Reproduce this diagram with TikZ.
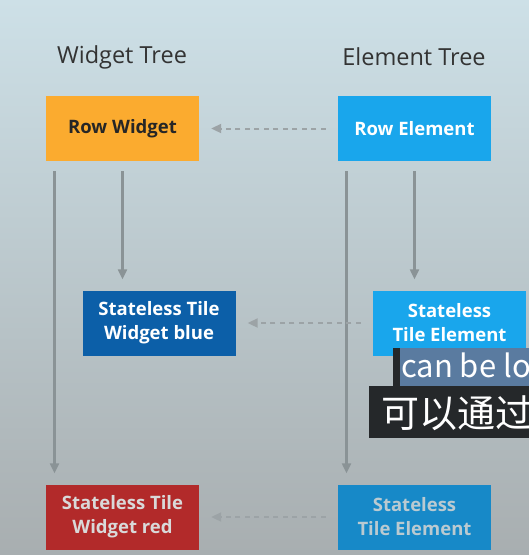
\documentclass[tikz,border=0pt]{standalone}
\usepackage{fontspec}
\setmainfont{Open Sans}
\newfontfamily\cjk{Noto Sans CJK SC}
\usetikzlibrary{arrows.meta}

\definecolor{roworange}{HTML}{FBAB2F}
\definecolor{elemblue}{HTML}{19A6EC}
\definecolor{elemdark}{HTML}{1789C8}
\definecolor{widgetblue}{HTML}{0C5FA8}
\definecolor{widgetred}{HTML}{B22A2A}
\definecolor{linegray}{HTML}{8A9396}
\definecolor{subdark}{HTML}{25282A}
\definecolor{subhl}{HTML}{5A7BA0}
\definecolor{bgtop}{HTML}{CDE0E7}
\definecolor{bgmid}{HTML}{D0DADC}
\definecolor{bgbot}{HTML}{A8AEB0}

\begin{document}
\begin{tikzpicture}[
    x=1pt, y=-1pt,
    box/.style={minimum width=153pt, minimum height=65pt, inner sep=0pt,
        align=center, font=\fontsize{18.5}{24}\selectfont\bfseries},
    title/.style={font=\fontsize{23.5}{28}\selectfont, text=black!80},
    link/.style={->, draw=linegray, line width=2.2pt},
    maps/.style={->, draw=linegray!85, line width=2pt, dash pattern=on 5pt off 4.5pt,
        shorten <=12pt, shorten >=12pt},
    >={Triangle[length=10pt, width=9pt]}
]
    \useasboundingbox (0,0) rectangle (529,555);
    \clip (0,0) rectangle (529,555);
    \shade[top color=bgtop, middle color=bgmid, bottom color=bgbot]
        (0,0) rectangle (529,555);

    % 标题
    \node[title] (WT) at (122,57) {Widget Tree};
    \node[title] (ET) at (414,57) {Element Tree};

    % 节点定义 (左: widget, 右: element)
    \node[box, fill=roworange, text=black!85] (RW) at (122.5,128.5) {Row Widget};
    \node[box, fill=elemblue, text=white] (RE) at (414.5,128.5) {Row Element};
    \node[box, fill=widgetblue, text=white] (SWB) at (159,323) {Stateless Tile\\Widget blue};
    \node[box, fill=elemblue, text=white] (SE1) at (449.5,323) {Stateless\\Tile Element};
    \node[box, fill=widgetred, text=white!85!black] (SWR) at (122.5,517) {Stateless Tile\\Widget red};
    \node[box, fill=elemdark, text=white!80!cyan!60!gray] (SE2) at (414.5,517) {Stateless\\Tile Element};

    % 1. 树中的父子连线
    \draw[link] ([xshift=8.7pt, yshift=-10pt]RW.south west) -- ([xshift=8.7pt, yshift=11pt]SWR.north west);
    \draw[link] ([yshift=-10pt]RW.south) -- ([yshift=11pt]RW.south |- SWB.north);
    \draw[link] ([xshift=8.7pt, yshift=-10pt]RE.south west) -- ([xshift=8.7pt, yshift=11pt]SE2.north west);
    \draw[link] ([yshift=-10pt]RE.south) -- ([yshift=11pt]RE.south |- SE1.north);

    % 2. element 指向 widget 的虚线
    \draw[maps] (RE) -- (RW);
    \draw[maps] (SE1) -- (SWB);
    \draw[maps] (SE2) -- (SWR);

    % 字幕
    \fill[subdark] (393,348) rectangle (529,386);
    \fill[subhl] (400,348) rectangle (529,386);
    \fill[subdark] (369,386) rectangle (529,438);
    \node[anchor=base west, inner sep=0pt, text=white, font=\cjk\fontsize{31}{34}\selectfont]
        (SUB1) at (401,377) {can be lo};
    \node[anchor=base west, inner sep=0pt, text=white, font=\cjk\fontsize{38}{40}\selectfont]
        (SUB2) at (381,427) {可以通过};
\end{tikzpicture}
\end{document}
